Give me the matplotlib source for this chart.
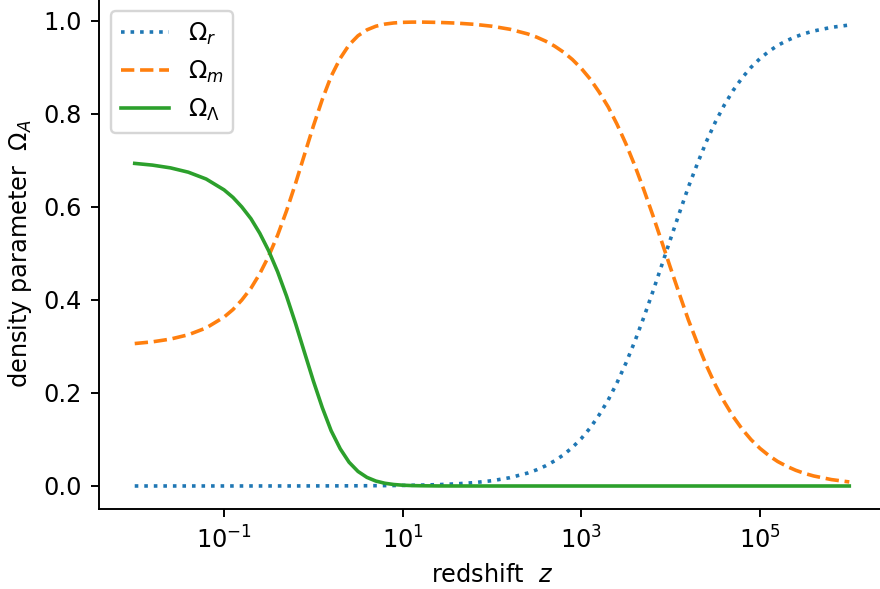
import matplotlib
matplotlib.use("Agg")
import matplotlib.pyplot as plt
from matplotlib.ticker import NullLocator

DPI = 172.8

# redshift samples, denser where the fractions turn over
redshift = [0.01, 0.0158, 0.0251, 0.0398, 0.0631,
            0.1, 0.126, 0.158, 0.2, 0.251, 0.316, 0.398, 0.501, 0.631, 0.794,
            1.0, 1.26, 1.58, 2.0, 2.51, 3.16, 3.98, 5.01, 6.31, 7.94,
            10.0, 12.6, 15.8,
            25.1, 39.8, 63.1, 100.0, 158.0, 251.0,
            316.0, 398.0, 501.0, 631.0, 794.0,
            1.0e3, 1.26e3, 1.58e3, 2.0e3, 2.51e3, 3.16e3, 3.98e3, 5.01e3, 6.31e3, 7.94e3,
            1.0e4, 1.26e4, 1.58e4, 2.0e4, 2.51e4, 3.16e4, 3.98e4, 5.01e4, 6.31e4, 7.94e4,
            1.0e5, 1.26e5, 1.58e5, 2.0e5, 2.51e5, 3.16e5, 3.98e5,
            6.31e5, 1.0e6]

# radiation
omega_r = [0.000035, 0.000036, 0.000037, 0.000038, 0.000041,
           0.000045, 0.000049, 0.000053, 0.000058, 0.000065, 0.000074, 0.000086, 0.00010, 0.00012, 0.00015,
           0.00018, 0.00021, 0.00026, 0.00031, 0.00038, 0.00046, 0.00056, 0.00068, 0.00083, 0.00101,
           0.00125, 0.00154, 0.00191,
           0.00296, 0.00462, 0.00723, 0.01135, 0.01780, 0.02786,
           0.03479, 0.04338, 0.05399, 0.06700, 0.08289,
           0.10213, 0.12524, 0.15269, 0.18490, 0.22213, 0.26441, 0.31153, 0.36291, 0.41763, 0.47445,
           0.53194, 0.58860, 0.64300, 0.69395, 0.74056, 0.78230, 0.81897, 0.85065, 0.87760, 0.90027,
           0.91912, 0.93467, 0.94740, 0.95776, 0.96615, 0.97293, 0.97837,
           0.98624, 0.99128]

# matter
omega_m = [0.3063, 0.3100, 0.3159, 0.3252, 0.3399,
           0.3632, 0.3795, 0.3999, 0.4252, 0.4564, 0.4943, 0.5394, 0.5918, 0.6503, 0.7122,
           0.7741, 0.8315, 0.8808, 0.9198, 0.9485, 0.9682, 0.9809, 0.9887, 0.9932, 0.9957,
           0.9970, 0.9975, 0.9976,
           0.9969, 0.9954, 0.9928, 0.98865, 0.98220, 0.97214,
           0.96521, 0.95662, 0.94601, 0.93300, 0.91711,
           0.89787, 0.87476, 0.84731, 0.81510, 0.77787, 0.73559, 0.68847, 0.63709, 0.58237, 0.52555,
           0.46806, 0.41140, 0.35700, 0.30605, 0.25944, 0.21770, 0.18103, 0.14935, 0.12240, 0.09973,
           0.08088, 0.06533, 0.05260, 0.04224, 0.03385, 0.02707, 0.02163,
           0.01376, 0.00872]

# dark energy
omega_l = [0.6937, 0.6900, 0.6841, 0.6748, 0.6601,
           0.6368, 0.6205, 0.6001, 0.5748, 0.5436, 0.5057, 0.4606, 0.4082, 0.3497, 0.2877,
           0.2258, 0.1683, 0.1190, 0.0799, 0.0511, 0.0313, 0.0185, 0.0106, 0.0059, 0.0032,
           0.0017, 0.0009, 0.0005,
           0.0001, 0.00003, 0.00001, 0.0, 0.0, 0.0,
           0.0, 0.0, 0.0, 0.0, 0.0,
           0.0, 0.0, 0.0, 0.0, 0.0, 0.0, 0.0, 0.0, 0.0, 0.0,
           0.0, 0.0, 0.0, 0.0, 0.0, 0.0, 0.0, 0.0, 0.0, 0.0,
           0.0, 0.0, 0.0, 0.0, 0.0, 0.0, 0.0,
           0.0, 0.0]

xticks = [1e-1, 1e1, 1e3, 1e5]

fig = plt.figure(figsize=(880 / DPI, 589 / DPI), dpi=DPI)
ax = fig.add_axes([0.1125, 0.1355, 0.8932, 0.8664])

ax.plot(redshift, omega_r, ":", color="C0", label=r"$\Omega_r$")
ax.plot(redshift, omega_m, "--", color="C1", label=r"$\Omega_m$")
ax.plot(redshift, omega_l, "-", color="C2", label=r"$\Omega_\Lambda$")

ax.set_xscale("log")
ax.set_xticks(xticks)
ax.xaxis.set_minor_locator(NullLocator())
ax.set_xlabel(r"redshift  $z$")
ax.set_ylabel(r"density parameter  $\Omega_A$")
ax.spines["top"].set_visible(False)
ax.spines["right"].set_visible(False)
ax.legend(loc="upper left")

fig.savefig("out.png", dpi=DPI)
